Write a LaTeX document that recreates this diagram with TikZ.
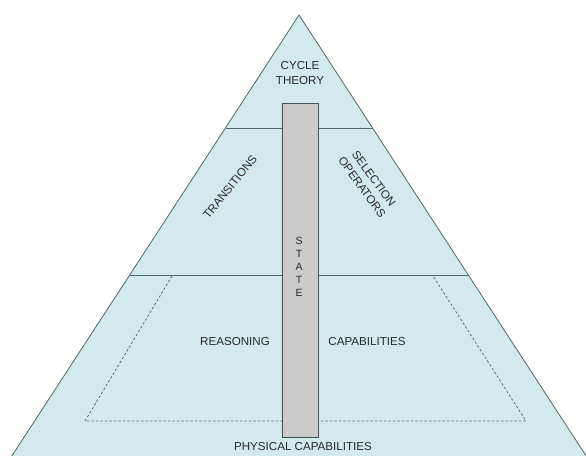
\documentclass[tikz,border=0pt]{standalone}
\usepackage{fontspec}
\setmainfont{Liberation Sans}
\definecolor{pyrfill}{HTML}{D2E9EE}
\definecolor{pyredge}{HTML}{56666A}
\definecolor{statefill}{HTML}{CBCBCB}
\definecolor{txt}{HTML}{2A2A2A}
\tikzset{
  lbl/.style={font=\fontsize{11.6}{14.5}\selectfont, text=txt, align=center, inner sep=0pt},
  edge/.style={draw=pyredge, line width=0.8pt},
  dashbox/.style={draw=pyredge, dashed, line width=0.7pt, dash pattern=on 2.5pt off 2pt},
  statebox/.style={draw=pyredge!80!black, fill=statefill, line width=1pt}
}
\begin{document}
\begin{tikzpicture}[x=1pt,y=-1pt]
\useasboundingbox (0,0) rectangle (586,455);
\begin{scope}
\clip (0,0) rectangle (586,455);
\fill[white] (0,0) rectangle (586,455);
% pyramid
\coordinate (apex) at (299,15);
\coordinate (bl) at (4,468);
\coordinate (br) at (594,468);
\path[fill=pyrfill] (apex) -- (bl) -- (br) -- cycle;
\draw[edge] (bl) -- (apex) -- (br);
% level lines
\coordinate (l1a) at (225.5,128);
\coordinate (l1b) at (372.5,128);
\coordinate (l2a) at (130,275);
\coordinate (l2b) at (468,275);
\draw[edge] (l1a) -- (l1b);
\draw[edge] (l2a) -- (l2b);
% dashed trapezoid
\coordinate (d1) at (172,276);
\coordinate (d2) at (85,421);
\coordinate (d3) at (526,421);
\coordinate (d4) at (433,276);
\draw[dashbox] (d1) -- (d2) -- (d3) -- (d4);
% state column
\node[statebox, minimum width=36pt, minimum height=334pt, inner sep=0pt, anchor=north west] (state) at (282,103) {};
\end{scope}
% labels
\node[lbl] (cycle) at (300,73) {CYCLE\\THEORY};
\node[lbl, rotate=51] (trans) at (230,187) {TRANSITIONS};
\node[lbl, rotate=-54] (sel) at (368,183) {SELECTION\\OPERATORS};
\node[lbl, font=\fontsize{10.5}{13}\selectfont] (stt) at (299,267) {S\\T\\A\\T\\E};
\node[lbl] (reas) at (235,342) {REASONING};
\node[lbl] (cap) at (367,342) {CAPABILITIES};
\node[lbl] (phys) at (303,447) {PHYSICAL CAPABILITIES};
\end{tikzpicture}
\end{document}
